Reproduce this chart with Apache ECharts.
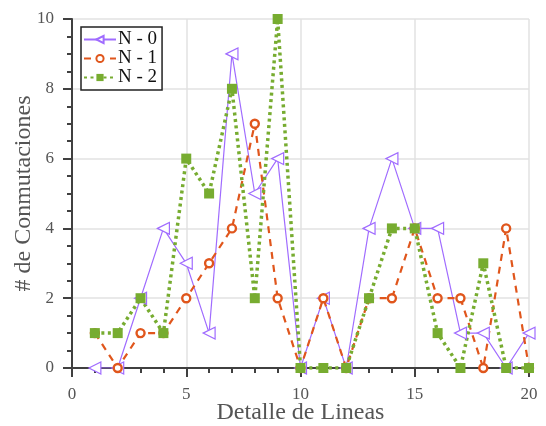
<!DOCTYPE html>
<html>
<head>
<meta charset="utf-8">
<script src="https://cdn.jsdelivr.net/npm/echarts@6/dist/echarts.min.js"></script>
<style>
html, body { margin: 0; padding: 0; background: #fff; }
#chart { width: 546px; height: 426px; }
</style>
</head>
<body>
<div id="chart"></div>
<script>
var lineas = [1, 2, 3, 4, 5, 6, 7, 8, 9, 10, 11, 12, 13, 14, 15, 16, 17, 18, 19, 20];
var n0 = [0, 0, 2, 4, 3, 1, 9, 5, 6, 0, 2, 0, 4, 6, 4, 4, 1, 1, 0, 1];
var n1 = [1, 0, 1, 1, 2, 3, 4, 7, 2, 0, 2, 0, 2, 2, 4, 2, 2, 0, 4, 0];
var n2 = [1, 1, 2, 1, 6, 5, 8, 2, 10, 0, 0, 0, 2, 4, 4, 1, 0, 3, 0, 0];
var nombres = ['N - 0', 'N - 1', 'N - 2'];

var font = 'Liberation Serif';
var axisGray = '#404040';

function pares(vals) {
    return lineas.map(function (x, i) { return [x, vals[i]]; });
}

/**
 * eje con ticks hacia afuera y ticks menores
 */
function eje(extra) {
    var base = {
        type: 'value',
        nameMoveOverlap: false,
        nameTextStyle: { fontFamily: font, fontSize: 24, color: '#555' },
        axisLine: { show: true, onZero: false, lineStyle: { color: axisGray, width: 2 } },
        axisTick: { show: true, inside: false, length: 9, lineStyle: { color: axisGray, width: 2 } },
        axisLabel: { fontFamily: font, fontSize: 17, color: '#555', margin: 18 },
        splitLine: { show: true, lineStyle: { color: '#e2e2e2', width: 1.5 } }
    };
    for (var k in extra) {
        base[k] = extra[k];
    }
    return base;
}

var myChart = echarts.init(document.getElementById('chart'));
var option = {
    animation: false,
    grid: { left: 72, right: 17, top: 19, bottom: 58, containLabel: false, outerBoundsMode: 'none' },
    legend: {
        data: nombres,
        orient: 'vertical',
        left: 81,
        top: 27,
        itemGap: 0,
        itemWidth: 32,
        itemHeight: 9,
        padding: [3, 5, 3, 2],
        borderColor: '#222',
        borderWidth: 1.5,
        backgroundColor: '#fff',
        textStyle: { fontFamily: font, fontSize: 19, color: '#111', padding: [0, 0, 0, -3] }
    },
    xAxis: eje({
        min: 0, max: 20, interval: 5,
        minorTick: { show: true, splitNumber: 5, length: 5, lineStyle: { color: axisGray, width: 2 } },
        name: 'Detalle de Lineas',
        nameLocation: 'middle',
        nameGap: 33
    }),
    yAxis: eje({
        min: 0, max: 10, interval: 2,
        minorTick: { show: true, splitNumber: 4, length: 5, lineStyle: { color: axisGray, width: 2 } },
        name: '# de Conmutaciones',
        nameLocation: 'middle',
        nameGap: 36
    }),
    series: [
        {
            name: nombres[0],
            type: 'line',
            data: pares(n0),
            symbol: 'triangle',
            symbolRotate: 90,
            symbolSize: 12,
            lineStyle: { color: '#a06cff', width: 1.2 },
            itemStyle: { color: '#fff', borderColor: '#a06cff', borderWidth: 1.2 }
        },
        {
            name: nombres[1],
            type: 'line',
            data: pares(n1),
            symbol: 'circle',
            symbolSize: 8,
            lineStyle: { color: '#e0561c', width: 2.2, type: [7, 6] },
            itemStyle: { color: '#fff', borderColor: '#e0561c', borderWidth: 2.4 }
        },
        {
            name: nombres[2],
            type: 'line',
            data: pares(n2),
            symbol: 'rect',
            symbolSize: 10,
            lineStyle: { color: '#77ac30', width: 3.5, type: [3, 3.5] },
            itemStyle: { color: '#77ac30' }
        }
    ]
};
myChart.setOption(option);
</script>
</body>
</html>
